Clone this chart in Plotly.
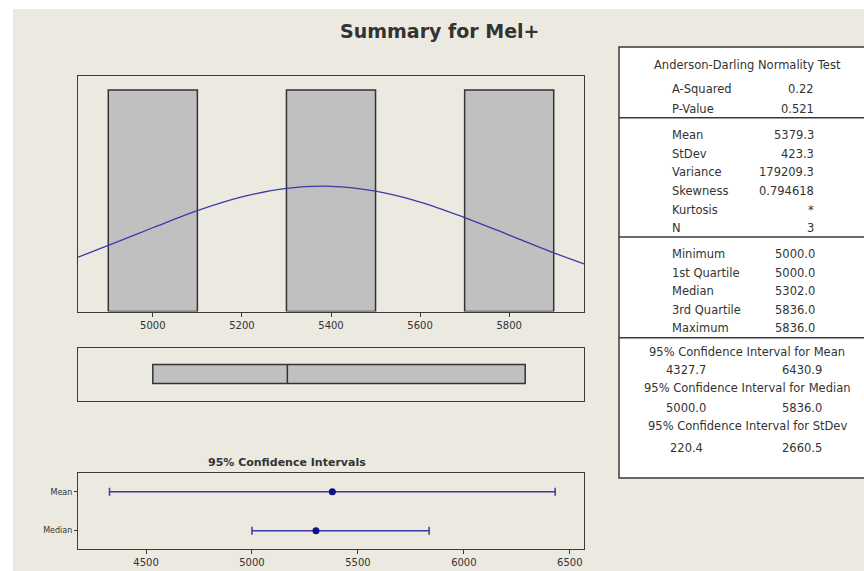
import plotly.graph_objects as go

# ---------------- data ----------------
bin_centers = [5000, 5400, 5800]
bin_counts = [1, 1, 1]
bin_width = 200

# fitted normal curve (count scale)
curve_x = [4832, 4900, 5000, 5100, 5200, 5300, 5400, 5500, 5600, 5700, 5800, 5900, 5968]
curve_y = [0.245, 0.298, 0.378, 0.455, 0.517, 0.556, 0.565, 0.543, 0.494, 0.424, 0.345, 0.265, 0.215]

box_min, box_q1, box_median, box_q3, box_max = 5000.0, 5000.0, 5302.0, 5836.0, 5836.0

ci_names = ["Mean", "Median"]
ci_center = [5379.3, 5302.0]
ci_low = [4327.7, 5000.0]
ci_high = [6430.9, 5836.0]

hist_ticks = [5000, 5200, 5400, 5600, 5800]
ci_ticks = [4500, 5000, 5500, 6000, 6500]

ad_labels = ["A-Squared", "P-Value"]
ad_values = ["0.22", "0.521"]
desc_labels = ["Mean", "StDev", "Variance", "Skewness", "Kurtosis", "N"]
desc_values = ["5379.3", "423.3", "179209.3", "0.794618", "*", "3"]
quant_labels = ["Minimum", "1st Quartile", "Median", "3rd Quartile", "Maximum"]
quant_values = ["5000.0", "5000.0", "5302.0", "5836.0", "5836.0"]
ci_headers = ["95% Confidence Interval for Mean",
              "95% Confidence Interval for Median",
              "95% Confidence Interval for StDev"]
ci_table_low = ["4327.7", "5000.0", "220.4"]
ci_table_high = ["6430.9", "5836.0", "2660.5"]

# ---------------- layout helpers ----------------
W, H = 864, 571
def px(x):
    return x / W
def py(y):
    return 1 - y / H

BG = "#ECE9E1"
FRAME = "#3a3a3a"
TXT = "#333333"
FONT = "DejaVu Sans"
BLUE = "#3b3ba6"

fig = go.Figure()

# histogram
fig.add_trace(go.Bar(x=bin_centers, y=bin_counts, width=bin_width,
                     marker=dict(color="#C0C0C0", line=dict(color="#333333", width=1.5)),
                     xaxis="x", yaxis="y", showlegend=False, hoverinfo="skip"))
fig.add_trace(go.Scatter(x=curve_x, y=curve_y, mode="lines", line=dict(color=BLUE, width=1.3, shape="spline"),
                         xaxis="x", yaxis="y", showlegend=False, hoverinfo="skip"))

# boxplot
fig.add_trace(go.Box(y=[0], q1=[box_q1], median=[box_median], q3=[box_q3],
                     lowerfence=[box_min], upperfence=[box_max], orientation="h",
                     width=0.72, fillcolor="#C0C0C0", line=dict(color="#333333", width=1.5),
                     boxpoints=False, xaxis="x2", yaxis="y2", showlegend=False, hoverinfo="skip"))

# confidence intervals
ci_y = [1, 0]
fig.add_trace(go.Scatter(
    x=ci_center, y=ci_y, mode="markers",
    marker=dict(color="#10108a", size=7),
    error_x=dict(type="data", symmetric=False,
                 array=[h - c for h, c in zip(ci_high, ci_center)],
                 arrayminus=[c - l for c, l in zip(ci_center, ci_low)],
                 color=BLUE, thickness=1.5, width=4),
    xaxis="x3", yaxis="y3", showlegend=False, hoverinfo="skip"))

xdom = [px(78), px(584)]
axis_common = dict(showline=True, mirror=True, linecolor=FRAME, linewidth=1.2,
                   showgrid=False, zeroline=False)

fig.update_layout(
    width=W, height=H, margin=dict(l=0, r=0, t=0, b=0),
    paper_bgcolor="white", plot_bgcolor="white",
    font=dict(family=FONT, color=TXT, size=9),
    xaxis=dict(domain=xdom, range=[4832, 5968], anchor="y", tickvals=hist_ticks,
               ticks="outside", ticklen=4, tickcolor=FRAME, tickfont=dict(size=10, color=TXT),
               **axis_common),
    yaxis=dict(domain=[py(311.5), py(76)], range=[0, 1.063], anchor="x",
               showticklabels=False, ticks="", **axis_common),
    xaxis2=dict(domain=xdom, range=[4832, 5968], anchor="y2", showticklabels=False,
                ticks="", **axis_common),
    yaxis2=dict(domain=[py(400.5), py(347.5)], range=[-1, 1], anchor="x2",
                showticklabels=False, ticks="", **axis_common),
    xaxis3=dict(domain=xdom, range=[4179, 6567], anchor="y3", tickvals=ci_ticks,
                ticks="outside", ticklen=4, tickcolor=FRAME, tickfont=dict(size=10, color=TXT),
                **axis_common),
    yaxis3=dict(domain=[py(549), py(473)], range=[-0.47, 1.48], anchor="x3",
                tickvals=ci_y, ticktext=ci_names, ticks="outside", ticklen=3,
                tickcolor=FRAME, tickfont=dict(size=8, color=TXT), **axis_common),
)

shapes = []
# beige background region
shapes.append(dict(type="rect", xref="paper", yref="paper", x0=px(13), x1=1.01, y0=-0.01, y1=py(9),
                   fillcolor=BG, line=dict(width=0), layer="below"))
# table
shapes.append(dict(type="rect", xref="paper", yref="paper", x0=px(619), x1=px(880), y0=py(478), y1=py(47),
                   fillcolor="white", line=dict(color=FRAME, width=1.5), layer="below"))
for yy in [117.7, 237, 337.7]:
    shapes.append(dict(type="line", xref="paper", yref="paper", x0=px(619), x1=px(880), y0=py(yy), y1=py(yy),
                       line=dict(color=FRAME, width=1.5)))
fig.update_layout(shapes=shapes)

ann = []
def text(s, x, y, anchor="left", size=11.5, bold=False):
    ann.append(dict(text=("<b>%s</b>" % s) if bold else s, x=px(x), y=py(y), xref="paper", yref="paper",
                    xanchor=anchor, yanchor="middle", showarrow=False,
                    font=dict(family=FONT, size=size, color=TXT)))

text("Summary for Mel+", 440, 31, "center", size=19, bold=True)
text("95% Confidence Intervals", 287, 462, "center", size=11, bold=True)

text("Anderson-Darling Normality Test", 747, 65, "center")
for lab, val, yy in zip(ad_labels, ad_values, [89.3, 109]):
    text(lab, 670, yy, "left")
    text(val, 816, yy, "right")
for i, (lab, val) in enumerate(zip(desc_labels, desc_values)):
    yy = 135 + i * 18.65
    text(lab, 670, yy, "left")
    text(val, 816, yy, "right")
for i, (lab, val) in enumerate(zip(quant_labels, quant_values)):
    yy = 254 + i * 18.6
    text(lab, 670, yy, "left")
    text(val, 773, yy, "left")
for hdr, lo, hi, yh, yv in zip(ci_headers, ci_table_low, ci_table_high, [351.7, 388.3, 426], [370, 408.3, 448.3]):
    text(hdr, 747, yh, "center")
    text(lo, 686, yv, "center")
    text(hi, 802, yv, "center")

fig.update_layout(annotations=ann)
fig.write_html("out.html")
